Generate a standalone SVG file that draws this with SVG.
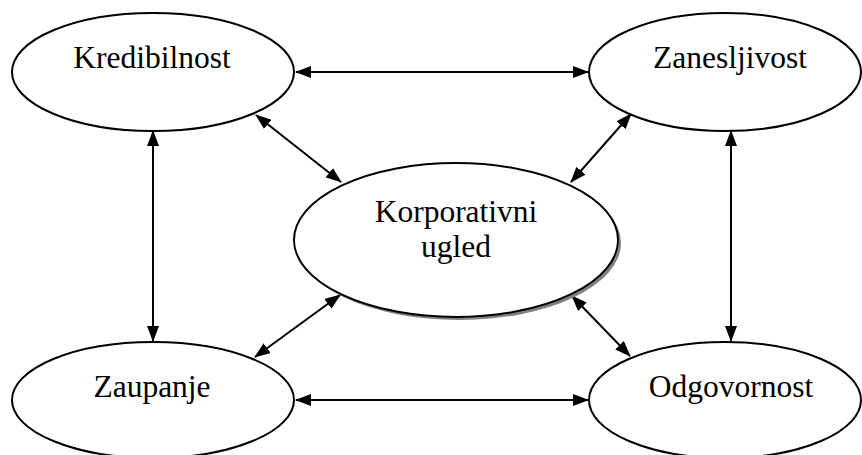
<svg xmlns="http://www.w3.org/2000/svg" width="862" height="455" viewBox="0 0 862 455">
<style>
.n{fill:#fff;stroke:#000;stroke-width:2}
.t{font-family:"Liberation Serif","Times New Roman",serif;font-size:31.5px;fill:#000;text-anchor:middle}
.c{stroke:#000;stroke-width:2;fill:none;marker-start:url(#ah);marker-end:url(#ah)}
</style>
<defs>
<marker id="ah" markerUnits="userSpaceOnUse" viewBox="0 0 16 12" refX="15" refY="6" markerWidth="16" markerHeight="12" orient="auto-start-reverse">
<path d="M0,0 L16,6 L0,12 z" fill="#000"/>
</marker>
</defs>
<rect width="862" height="455" fill="#fff"/>
<g id="connectors">
<line class="c" x1="296" y1="72" x2="588" y2="72"/>
<line class="c" x1="296" y1="400" x2="588" y2="400"/>
<line class="c" x1="153" y1="131" x2="153" y2="341"/>
<line class="c" x1="731" y1="131" x2="731" y2="341"/>
<line class="c" x1="256" y1="115" x2="341" y2="182"/>
<line class="c" x1="631" y1="114" x2="571" y2="182"/>
<line class="c" x1="340" y1="295" x2="255" y2="357"/>
<line class="c" x1="572" y1="296" x2="630" y2="356"/>
</g>
<g id="kredibilnost">
<ellipse class="n" cx="153" cy="72" rx="141" ry="59"/>
<text class="t" x="152" y="68">Kredibilnost</text>
</g>
<g id="zanesljivost">
<ellipse class="n" cx="725" cy="72" rx="136" ry="59"/>
<text class="t" x="730" y="68">Zanesljivost</text>
</g>
<g id="zaupanje">
<ellipse class="n" cx="153" cy="400" rx="141" ry="58"/>
<text class="t" x="152" y="397">Zaupanje</text>
</g>
<g id="odgovornost">
<ellipse class="n" cx="725" cy="400" rx="136" ry="58"/>
<text class="t" x="731" y="397">Odgovornost</text>
</g>
<g id="korporativni-ugled">
<ellipse cx="459" cy="243" rx="162" ry="77" fill="#808080"/>
<ellipse class="n" cx="456" cy="240" rx="162" ry="77"/>
<text class="t" x="456" y="222">Korporativni</text>
<text class="t" x="456" y="257">ugled</text>
</g>
</svg>
